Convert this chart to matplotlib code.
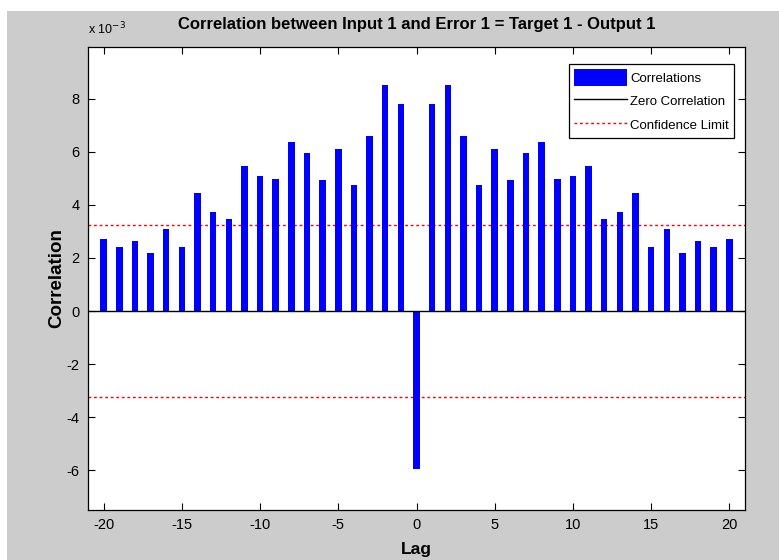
import numpy as np
import matplotlib.pyplot as plt
from matplotlib.patches import Rectangle
from matplotlib.ticker import FuncFormatter

#-------------------------------------------------------------------------
#                               Data
#-------------------------------------------------------------------------
lags = list(range(-20, 21))
# one side of the correlation (lags -20..-1), in units of 1e-3
left_side = [2.73, 2.41, 2.63, 2.20, 3.10, 2.41, 4.45, 3.74, 3.48, 5.46,
             5.09, 4.99, 6.38, 5.94, 4.92, 6.11, 4.76, 6.58, 8.52, 7.81]
center = -5.96
corr = np.array(left_side + [center] + left_side[::-1]) * 1e-3
conf_limit = 3.25e-3

#-------------------------------------------------------------------------
#                               Plot
#-------------------------------------------------------------------------
plt.rcParams['font.family'] = ['Liberation Sans', 'DejaVu Sans']
plt.rcParams['axes.unicode_minus'] = False

fig = plt.figure(figsize=(7.79, 5.6), dpi=100)
fig.patch.set_facecolor('white')
# matlab style gray figure background
fig.patches.append(Rectangle((7/779, 0), 1, 1 - 11/560, transform=fig.transFigure,
                             facecolor='#cccccc', edgecolor='none', zorder=-10))

ax = fig.add_axes([88/779, 50/560, (745-88)/779, (510-47)/560])
ax.set_facecolor('white')

ax.bar(lags, corr, width=0.42, color='#0000ff', label='Correlations', zorder=2)
ax.axhline(0, color='black', lw=1.0, label='Zero Correlation', zorder=3)
ax.axhline(conf_limit, color='#ff0000', ls=(0, (2, 2)), lw=1.0, label='Confidence Limit', zorder=1)
ax.axhline(-conf_limit, color='#ff0000', ls=(0, (2, 2)), lw=1.0, zorder=1)

ax.set_xlim(-21, 21)
ax.set_ylim(-7.5e-3, 9.95e-3)
ax.set_xticks([-20, -15, -10, -5, 0, 5, 10, 15, 20])
ax.set_yticks(np.arange(-6, 9, 2) * 1e-3)
ax.yaxis.set_major_formatter(FuncFormatter(lambda v, p: '%d' % round(v / 1e-3)))
ax.tick_params(direction='in', top=True, right=True, length=5, labelsize=10.5, pad=6)
for s in ax.spines.values():
    s.set_linewidth(0.9)

ax.set_title('Correlation between Input 1 and Error 1 = Target 1 - Output 1',
             fontsize=12, fontweight='bold', pad=13)
ax.set_xlabel('Lag', fontsize=12.5, fontweight='bold', labelpad=7)
ax.set_ylabel('Correlation', fontsize=13.5, fontweight='bold', labelpad=1)
ax.text(0.0, 1.02, r'x 10$^{-3}$', transform=ax.transAxes, fontsize=9, ha='left', va='bottom')

h, l = ax.get_legend_handles_labels()
order = [l.index('Correlations'), l.index('Zero Correlation'), l.index('Confidence Limit')]
leg = ax.legend([h[i] for i in order], [l[i] for i in order],
                loc='upper right', bbox_to_anchor=(0.994, 0.978), fontsize=9.5,
                fancybox=False, framealpha=1, edgecolor='black', borderpad=0.4,
                handlelength=4.0, handleheight=1.6, handletextpad=0.25, labelspacing=0.5)
leg.get_frame().set_linewidth(0.9)

fig.savefig('out.png', dpi=100)
